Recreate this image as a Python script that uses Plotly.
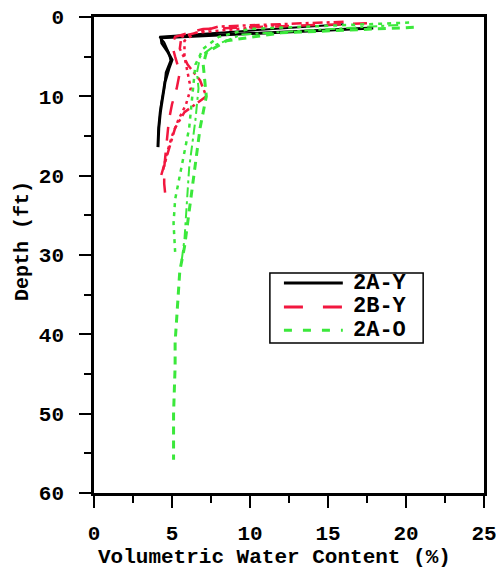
import plotly.graph_objects as go

# ---- data: (volumetric water content %, depth ft) ----
ay1_x = [17.9, 4.3, 4.35, 4.7, 5.0, 4.8, 4.55, 4.4, 4.25, 4.15, 4.1]
ay1_y = [1.4, 2.6, 3.3, 4.3, 5.4, 6.5, 8.2, 10, 12, 14, 16.4]
ay2_x = [16.0, 4.2, 4.5, 4.8, 4.9, 4.6, 4.5, 4.3, 4.2, 4.1]
ay2_y = [0.9, 2.5, 3.2, 4.5, 5.5, 7, 9, 11, 13, 15]

by1_x = [17.5, 7.0, 5.2, 5.0, 5.2, 5.5, 5.3, 5.0, 4.8, 4.7, 4.6, 4.5, 4.5, 4.6]
by1_y = [0.8, 1.5, 2.5, 3.5, 5, 7, 9, 11, 13, 15, 17, 19, 21, 23]
by2_x = [16.0, 8.0, 5.6, 5.5, 6.0, 6.8, 7.2, 5.8, 5.2, 4.9, 4.6, 4.3]
by2_y = [0.6, 1.2, 2.5, 4, 6, 8, 10, 12, 14, 16, 18, 20]
by3_x = [12.0, 6.5, 5.8, 5.8, 6.0, 6.2, 5.9, 5.4, 5.0, 4.7, 4.4]
by3_y = [1.0, 2, 3, 5, 7, 9, 11, 13, 15, 17, 19.5]

ao1_x = [20.5, 12, 8.5, 7.2, 7.0, 7.1, 7.2, 7.0, 6.8, 6.6, 6.4, 6.2, 6.0, 5.8, 5.5, 5.4, 5.3, 5.2, 5.2, 5.15, 5.1, 5.1, 5.1]
ao1_y = [1.3, 2.0, 3.0, 4.5, 6, 8, 10, 12, 14, 17, 20, 23, 26, 29, 32, 35, 38, 41, 44, 47, 50, 53, 55.8]
ao2_x = [20.2, 10, 8.0, 7.0, 6.5, 6.4, 6.3, 6.2, 6.1, 5.8, 5.5, 5.2, 5.1, 5.2]
ao2_y = [0.7, 1.5, 2.5, 4, 6, 8, 10, 12, 14, 17, 20, 23, 26, 29.6]
ao3_x = [19.5, 9.5, 7.8, 6.8, 6.6, 6.7, 6.6, 6.5, 6.3, 6.1, 6.0, 5.9, 5.8, 5.6]
ao3_y = [1.0, 2.2, 3.5, 5, 7, 9, 11, 13, 16, 19, 22, 25, 28, 31]

x_ticks = [0, 5, 10, 15, 20, 25]
y_ticks = [0, 10, 20, 30, 40, 50, 60]
legend_names = ["2A-Y", "2B-Y", "2A-O"]
x_title = "Volumetric Water Content (%)"
y_title = "Depth (ft)"

BLACK = "#000000"
RED = "#f2173f"
GREEN = "#3be83b"
FONT = "Liberation Mono"
FS = 21

fig = go.Figure()

def add(x, y, name, color, dash, width, group):
    fig.add_trace(go.Scatter(
        x=x, y=y, mode="lines", name=name, legendgroup=group, showlegend=False,
        line=dict(color=color, dash=dash, width=width)))

add(ay1_x, ay1_y, "2A-Y", BLACK, "solid", 3, "a")
add(ay2_x, ay2_y, "2A-Y", BLACK, "solid", 2, "a")
add(by1_x, by1_y, "2B-Y", RED, "14px,12px", 2.5, "b")
add(by2_x, by2_y, "2B-Y", RED, "10px,4px,3px,4px", 2.5, "b")
add(by3_x, by3_y, "2B-Y", RED, "3px,4px", 2.5, "b")
add(ao1_x, ao1_y, "2A-O", GREEN, "8px,6px", 3, "c")
add(ao2_x, ao2_y, "2A-O", GREEN, "4px,5px", 2.5, "c")
add(ao3_x, ao3_y, "2A-O", GREEN, "10px,4px,3px,4px", 2, "c")

# ---- legend drawn as a boxed key ----
leg_colors = [BLACK, RED, GREEN]
leg_dashes = ["solid", "19px,20px", "8px,11px"]
leg_rows = [0.441, 0.391, 0.342]
fig.add_shape(type="rect", xref="paper", yref="paper", x0=0.451, x1=0.844,
              y0=0.315, y1=0.462, line=dict(color="black", width=1.5),
              fillcolor="white", layer="above")
for name, c, d, yy in zip(legend_names, leg_colors, leg_dashes, leg_rows):
    fig.add_shape(type="line", xref="paper", yref="paper", x0=0.487, x1=0.638,
                  y0=yy, y1=yy, line=dict(color=c, width=3, dash=d), layer="above")
    fig.add_annotation(xref="paper", yref="paper", x=0.66, y=yy, text=name,
                       showarrow=False, xanchor="left", yanchor="middle",
                       font=dict(family=FONT, size=22, color="black", weight="bold"))

# ---- axis titles ----
fig.add_annotation(xref="paper", yref="paper", x=0.462, y=-0.136, text=x_title,
                   showarrow=False, xanchor="center", yanchor="middle",
                   font=dict(family=FONT, size=FS, color="black", weight="bold"))
fig.add_annotation(xref="paper", yref="paper", x=-0.185, y=0.529, text=y_title,
                   showarrow=False, xanchor="center", yanchor="middle", textangle=-90,
                   font=dict(family=FONT, size=20, color="black", weight="bold"))

axis_common = dict(
    showgrid=False, zeroline=False, showline=True, linecolor="black",
    linewidth=2.5, mirror=True, ticks="outside", ticklen=12, tickwidth=2,
    tickcolor="black", automargin=False, ticklabeloverflow="allow",
    tickfont=dict(family=FONT, size=FS, color="black", weight="bold"),
)

fig.update_layout(
    width=496, height=573,
    margin=dict(l=94, r=12, t=17, b=80),
    paper_bgcolor="white", plot_bgcolor="white",
    font=dict(family=FONT, size=FS, color="black", weight="bold"),
    xaxis=dict(range=[0, 25], tickvals=x_ticks,
               minor=dict(ticks="outside", ticklen=7, dtick=2.5, tickwidth=2, tickcolor="black"),
               ticklabelstandoff=7,
               **axis_common),
    yaxis=dict(range=[60, 0], tickvals=y_ticks,
               minor=dict(ticks="outside", ticklen=7, dtick=5, tickwidth=2, tickcolor="black"),
               ticklabelstandoff=11,
               **axis_common),
    showlegend=False,
)

fig.write_html("out.html")
